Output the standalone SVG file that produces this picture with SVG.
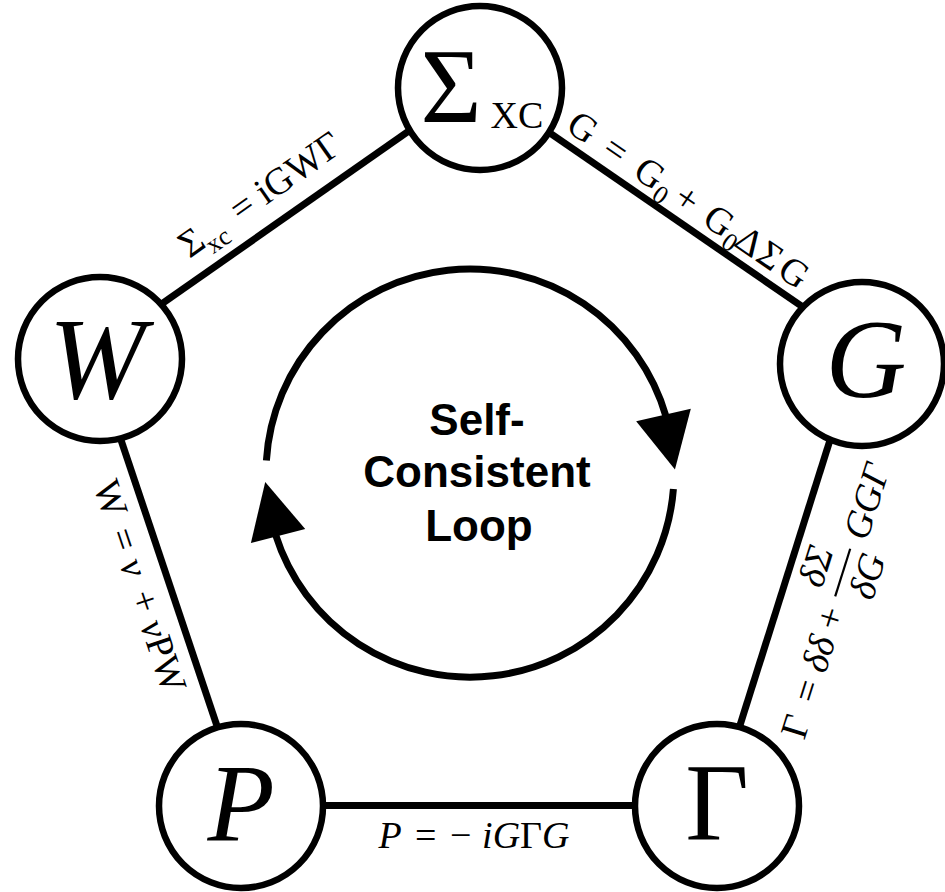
<svg xmlns="http://www.w3.org/2000/svg" width="945" height="892" viewBox="0 0 945 892">
<defs>
<style>
.edge{stroke:#000;stroke-width:7;fill:none}
.node{fill:#fff;stroke:#000;stroke-width:6.5}
.loop{stroke:#000;stroke-width:7;fill:none;marker-end:url(#ah)}
.m{font-family:"Liberation Serif","Times New Roman",serif;font-size:38px;fill:#000}
.mid{text-anchor:middle}
.it{font-style:italic}
.sub{font-size:26px}
.nl{font-family:"Liberation Serif","Times New Roman",serif;fill:#000;text-anchor:middle}
.ctr{font-family:"Liberation Sans",Arial,sans-serif;font-weight:bold;font-size:44px;text-anchor:middle;fill:#000}
</style>
<marker id="ah" markerUnits="userSpaceOnUse" orient="auto" refX="0" refY="0" markerWidth="60" markerHeight="60" overflow="visible">
<path d="M-1,-26 L53,6 L-4,30 Z" fill="#000"/>
</marker>
</defs>
<rect width="945" height="892" fill="#fff"/>

<g id="connectors">
<line class="edge" x1="122" y1="331.7" x2="435.8" y2="112.1"/>
<line class="edge" x1="517" y1="110.3" x2="830" y2="325.7"/>
<line class="edge" x1="845.1" y1="392.3" x2="726.6" y2="767.7"/>
<line class="edge" x1="241" y1="805.5" x2="717" y2="805.5"/>
<line class="edge" x1="106.1" y1="395.6" x2="230.9" y2="767.4"/>
</g>

<g id="edge-labels">
<g transform="translate(163,303) rotate(-35)">
<text class="m" x="47" y="-21">Σ</text>
<text class="m sub mid" x="81" y="-11">xc</text>
<text class="m mid" x="120" y="-21">=</text>
<text class="m mid" x="188" y="-21">iGWΓ</text>
</g>
<g transform="translate(550,133) rotate(34.5)">
<text class="m mid" x="23.8" y="-11">G</text>
<text class="m mid" x="63.7" y="-11">=</text>
<text class="m mid" x="105" y="-11">G</text>
<text class="m sub mid" x="126" y="-3">0</text>
<text class="m mid" x="150.3" y="-11">+</text>
<text class="m mid" x="189" y="-11">G</text>
<text class="m sub mid" x="210" y="-3">0</text>
<text class="m mid" x="226" y="-11">Δ</text>
<text class="m mid" x="251" y="-11">Σ</text>
<text class="m mid" x="280" y="-11">G</text>
</g>
<g transform="translate(741.7,720) rotate(-72.5)">
<text class="m mid" x="9.9" y="66">Γ</text>
<text class="m mid" x="47.4" y="66">=</text>
<text class="m mid it" x="86.3" y="66">δδ</text>
<text class="m mid" x="123.8" y="66">+</text>
<text class="m mid it" x="169" y="37">δΣ</text>
<line x1="146" y1="52" x2="196" y2="52" stroke="#000" stroke-width="2.2"/>
<text class="m mid it" x="175" y="89">δG</text>
<text class="m mid it" x="246" y="66">GGΓ</text>
</g>
<g transform="translate(122,443) rotate(71.45)">
<text class="m mid" x="48.7" y="41">W</text>
<text class="m mid" x="91.9" y="41">=</text>
<text class="m mid it" x="121.9" y="41">ν</text>
<text class="m mid" x="157.2" y="41">+</text>
<text class="m" x="178" y="41"><tspan class="it">ν</tspan>PW</text>
</g>
<g>
<text class="m mid it" x="390" y="848">P</text>
<text class="m mid" x="425.8" y="848">=</text>
<text class="m mid" x="460.8" y="848">−</text>
<text class="m mid it" x="525.8" y="848">iG<tspan font-style="normal">Γ</tspan>G</text>
</g>
</g>

<g id="loop">
<path class="loop" d="M266.4,460.5 A204,204 0 0 1 666.1,416.8"/>
<path class="loop" d="M673.4,489 A204,204 0 0 1 275.4,534.3"/>
<text class="ctr" x="477" y="435">Self-</text>
<text class="ctr" x="477" y="487">Consistent</text>
<text class="ctr" x="479" y="541">Loop</text>
</g>

<g id="node-sigma">
<circle class="node" cx="480" cy="88" r="82"/>
<text class="nl" x="451" y="122" font-size="105">Σ</text>
<text class="nl" x="517" y="128" font-size="38">XC</text>
</g>
<g id="node-W">
<circle class="node" cx="100" cy="359" r="82"/>
<text class="nl it" x="97" y="398" font-size="116">W</text>
</g>
<g id="node-G">
<circle class="node" cx="862" cy="364" r="82"/>
<text class="nl it" x="866" y="397" font-size="112">G</text>
</g>
<g id="node-P">
<circle class="node" cx="241" cy="806" r="82"/>
<text class="nl it" x="241" y="840" font-size="110">P</text>
</g>
<g id="node-Gamma">
<circle class="node" cx="717" cy="806" r="82"/>
<text class="nl" x="717" y="840" font-size="110">Γ</text>
</g>
</svg>
